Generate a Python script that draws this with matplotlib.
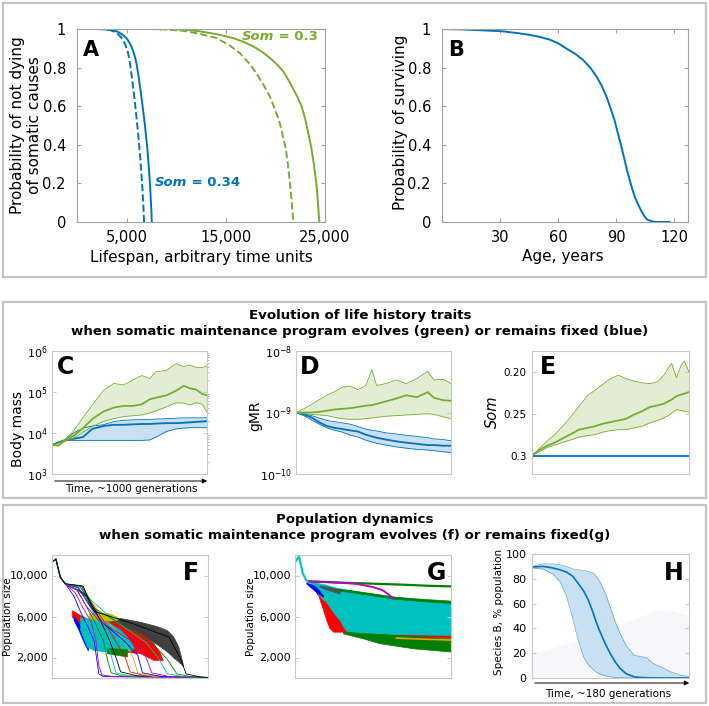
import numpy as np
import matplotlib.pyplot as plt
from matplotlib.patches import Rectangle, FancyArrowPatch

W, H = 709, 706
BLUE = '#0072BD'
GREEN = '#77AC30'
BLUE_FILL = '#c9e0f3'
GREEN_FILL = '#e2eed3'

# ---- A: somatic survival, two Som values (solid / dashed) ----
a_blue_x = [0, 2000, 3000, 3630, 4000, 4300, 4650, 4980, 5250, 5480, 5650, 5820, 6000, 6160,
            6330, 6490, 6660, 6830, 6970, 7100, 7200, 7300, 7380, 7440, 7500, 7540]
a_blue_y = [1, 1, 0.997, 0.993, 0.988, 0.98, 0.968, 0.953, 0.932, 0.91, 0.887, 0.86, 0.82, 0.77,
            0.71, 0.65, 0.58, 0.51, 0.44, 0.375, 0.31, 0.24, 0.175, 0.115, 0.055, 0]
a_blued_x = [0, 2900, 3500, 3970, 4300, 4640, 4900, 5150, 5320, 5480, 5650, 5820, 5990, 6160,
             6280, 6390, 6500, 6600, 6690, 6760]
a_blued_y = [1, 1, 0.992, 0.98, 0.965, 0.945, 0.915, 0.875, 0.83, 0.77, 0.70, 0.63, 0.545, 0.46,
             0.39, 0.32, 0.245, 0.17, 0.085, 0]
a_green_x = [0, 9020, 11000, 12380, 14000, 15750, 16800, 17770, 18650, 19450, 20150, 20790, 21300,
             21800, 22250, 22640, 23000, 23320, 23600, 23820, 24000, 24160, 24300, 24430]
a_green_y = [1, 1, 0.996, 0.988, 0.974, 0.953, 0.933, 0.91, 0.882, 0.85, 0.817, 0.78, 0.737,
             0.69, 0.645, 0.6, 0.535, 0.46, 0.39, 0.32, 0.25, 0.185, 0.09, 0]
a_greend_x = [0, 7340, 9000, 10700, 12400, 14060, 15300, 16420, 17300, 18100, 18800, 19450,
              19980, 20460, 20780, 21060, 21280, 21470, 21650, 21800]
a_greend_y = [1, 1, 0.997, 0.991, 0.975, 0.953, 0.918, 0.875, 0.825, 0.77, 0.71, 0.65,
              0.58, 0.51, 0.44, 0.375, 0.29, 0.2, 0.1, 0]

# ---- B: human survival ----
b_age = [0, 10, 21, 31.5, 38, 45, 50, 55.6, 60, 64, 68.5, 72.8, 76.5, 79.7, 82.5, 84.9, 87, 89,
         90.8, 92.6, 94.3, 96, 97.8, 99.5, 101.3, 103, 104.5, 106, 108.3, 110.7, 117.5]
b_surv = [1, 0.998, 0.993, 0.988, 0.98, 0.97, 0.96, 0.945, 0.926, 0.90, 0.873, 0.84, 0.80, 0.755,
          0.705, 0.65, 0.59, 0.53, 0.46, 0.39, 0.32, 0.25, 0.185, 0.13, 0.09, 0.055, 0.03, 0.012,
          0.004, 0, 0]

# ---- C: body mass (log10) ----
c_t = [0, 4, 8, 14, 20, 26, 33, 40, 46, 52, 58, 63, 67, 74, 80, 85, 89, 93, 97, 100]
c_g_mid = [3.71, 3.69, 3.81, 3.93, 4.12, 4.34, 4.52, 4.62, 4.66, 4.66, 4.70, 4.82, 4.86, 4.92, 5.03, 5.15, 5.09, 5.06, 4.95, 4.92]
c_g_hi = [3.71, 3.76, 3.83, 4.05, 4.38, 4.68, 5.03, 5.21, 5.17, 5.29, 5.40, 5.33, 5.49, 5.53, 5.69, 5.62, 5.66, 5.60, 5.60, 5.63]
c_g_lo = [3.71, 3.74, 3.79, 3.88, 4.02, 4.16, 4.28, 4.35, 4.40, 4.42, 4.44, 4.49, 4.54, 4.64, 4.74, 4.73, 4.68, 4.74, 4.70, 4.50]
c_b_mid = [3.71, 3.77, 3.82, 3.86, 3.90, 4.10, 4.17, 4.20, 4.20, 4.21, 4.22, 4.22, 4.23, 4.24, 4.24, 4.25, 4.26, 4.27, 4.28, 4.29]
c_b_hi = [3.71, 3.76, 3.82, 4.00, 4.12, 4.17, 4.20, 4.28, 4.31, 4.32, 4.33, 4.33, 4.34, 4.35, 4.36, 4.37, 4.37, 4.37, 4.37, 4.37]
c_b_lo = [3.71, 3.77, 3.82, 3.82, 3.82, 3.82, 3.82, 3.82, 3.82, 3.82, 3.82, 3.83, 3.90, 4.04, 4.10, 4.12, 4.13, 4.13, 4.13, 4.13]

# ---- D: gMR (log10) ----
d_t = [0, 5, 10, 15, 20, 25, 30, 35, 40, 45, 49, 52, 58, 65, 71, 78, 85, 89, 95, 100]
d_g_mid = [-9.0, -9.0, -9.0, -8.99, -8.97, -8.95, -8.94, -8.93, -8.91, -8.89, -8.88, -8.86, -8.82, -8.77, -8.72, -8.75, -8.67, -8.76, -8.80, -8.81]
d_g_hi = [-9.0, -8.94, -8.87, -8.79, -8.72, -8.66, -8.59, -8.57, -8.63, -8.56, -8.31, -8.56, -8.53, -8.47, -8.53, -8.45, -8.33, -8.47, -8.46, -8.53]
d_g_lo = [-9.0, -9.02, -9.03, -9.04, -9.05, -9.08, -9.10, -9.11, -9.11, -9.10, -9.09, -9.08, -9.06, -9.05, -9.04, -9.03, -9.02, -9.03, -9.07, -9.10]
d_b_mid = [-9.0, -9.03, -9.08, -9.16, -9.22, -9.25, -9.27, -9.29, -9.31, -9.36, -9.39, -9.41, -9.44, -9.47, -9.49, -9.51, -9.53, -9.53, -9.54, -9.54]
d_b_hi = [-9.0, -9.02, -9.05, -9.09, -9.13, -9.15, -9.17, -9.19, -9.23, -9.27, -9.29, -9.30, -9.33, -9.35, -9.37, -9.39, -9.41, -9.43, -9.44, -9.46]
d_b_lo = [-9.0, -9.05, -9.12, -9.19, -9.25, -9.29, -9.32, -9.37, -9.40, -9.45, -9.48, -9.50, -9.53, -9.56, -9.58, -9.60, -9.61, -9.62, -9.64, -9.65]

# ---- E: Som ----
e_t = [0, 5, 10, 15, 20, 25, 30, 35, 40, 45, 50, 55, 60, 65, 70, 75, 80, 84, 87, 89, 92, 95, 97, 100]
e_g_mid = [.300, .293, .288, .284, .279, .274, .269, .267, .265, .262, .260, .258, .256, .251, .247, .242, .240, .238, .235, .233, .229, .227, .226, .224]
e_g_hi = [.300, .291, .282, .274, .264, .253, .241, .229, .222, .215, .208, .204, .208, .211, .213, .214, .212, .204, .195, .190, .207, .192, .187, .200]
e_g_lo = [.300, .295, .290, .287, .284, .281, .278, .276, .275, .272, .270, .269, .269, .267, .265, .261, .258, .255, .252, .249, .245, .246, .247, .248]
e_b_t = [0, 100]
e_b = [0.3, 0.3]

# ---- F: population size, Som evolves ----
f_head_t = [0, 2.5, 5.3, 8.5]
f_head_y = [11300, 11600, 9840, 9190]
f_line_colors = ['b', 'm', 'g', 'c', 'k', 'r', 'y', 'b', 'm', 'c', 'g', 'k']
f_line_t = [
    [8.5, 14, 19, 23, 27, 29, 30, 33, 100],
    [8.5, 15, 20, 25, 28, 30, 32, 40, 100],
    [8.5, 16, 22, 28, 33, 36, 38, 45, 100],
    [8.5, 17, 23, 30, 35, 39, 41, 50, 100],
    [8.5, 18, 24, 30, 36, 41, 44, 55, 100],
    [8.5, 19, 25, 33, 40, 47, 50, 60, 100],
    [8.5, 19, 26, 35, 45, 52, 55, 65, 100],
    [8.5, 17, 24, 33, 45, 55, 58, 70, 100],
    [8.5, 16, 22, 30, 50, 60, 64, 75, 100],
    [8.5, 18, 25, 40, 60, 68, 74, 85, 100],
    [8.5, 19, 27, 45, 65, 74, 80, 90, 100],
    [8.5, 20, 27, 50, 75, 82, 86, 95, 100],
]
f_line_y = [
    [9190, 8000, 6200, 5000, 3600, 1500, 400, 150, 50],
    [9190, 8300, 6800, 5500, 3800, 1200, 300, 120, 40],
    [9190, 8600, 7000, 5300, 3600, 1500, 500, 200, 50],
    [9190, 8800, 7300, 5500, 3700, 1600, 500, 200, 60],
    [9190, 8900, 7600, 5900, 4000, 2000, 600, 200, 60],
    [9190, 8900, 7400, 5600, 3800, 2000, 600, 200, 60],
    [9190, 9000, 7300, 5600, 3900, 2000, 500, 150, 50],
    [9190, 8800, 7100, 5300, 3800, 2200, 500, 150, 40],
    [9190, 8600, 7000, 5600, 3700, 2100, 500, 150, 40],
    [9190, 8900, 7600, 5600, 3500, 2000, 400, 120, 40],
    [9190, 9000, 6800, 5200, 3300, 1800, 400, 100, 30],
    [9190, 8950, 6500, 5400, 4000, 2000, 400, 100, 30],
]
f_gray_t = [9.6, 16, 21.3, 24.5, 27.7, 31, 37.3, 45.8, 56.5, 67.2, 73.6, 77.8, 81, 83.2, 84.2]
f_gray_hi = [9030, 8710, 8230, 7580, 6610, 6130, 5970, 5800, 5480, 5060, 4680, 4030, 3060, 1770, 1130]
f_gray_lo = [9030, 8600, 8000, 7000, 6300, 5650, 5350, 4900, 4250, 3300, 2600, 2000, 1600, 1300, 1130]
f_yel_t = [23.5, 28.8, 37.3, 41.6]
f_yel_hi = [6290, 6450, 6290, 5970]
f_yel_lo = [5650, 5600, 5600, 5650]
f_red_t = [12.8, 18.1, 24.5, 31, 39.4, 45.8, 56.5, 65, 69.3, 71]
f_red_hi = [6610, 6130, 5650, 5320, 5480, 5000, 4350, 3390, 2420, 1700]
f_red_lo = [5970, 5320, 4680, 3390, 2740, 2580, 2420, 1770, 1770, 1700]
f_blu_t = [13.9, 17, 20.3, 23]
f_blu_hi = [5970, 5400, 4680, 3500]
f_blu_lo = [5650, 4700, 3500, 2700]
f_cya_t = [18.1, 22.4, 26.7, 31, 37.3, 43.7, 48, 52.2]
f_cya_hi = [5970, 5800, 5650, 5480, 5320, 4680, 4030, 3060]
f_cya_lo = [4680, 3060, 2740, 2650, 2580, 2580, 2650, 2740]
f_grn_t = [35.2, 40, 44, 48]
f_grn_hi = [2900, 2900, 2850, 2800]
f_grn_lo = [2420, 2300, 2200, 2100]

# ---- G: population size, Som fixed ----
g_head_t = [0, 2.6, 5.1, 7.3, 9.4]
g_head_y = [11290, 11840, 10160, 9520, 9420]
g_top_t = [9.4, 30, 50, 70, 85, 100]
g_top_y = [9420, 9300, 9200, 9100, 9000, 8940]
g_mag_t = [9.4, 22.2, 39.3, 50, 56.4, 60.7, 63.2]
g_mag_y = [9420, 9350, 9190, 8870, 8550, 8060, 7740]
g_grn2_t = [22.2, 39.3, 62.8, 77.8, 100]
g_grn2_hi = [8800, 8480, 7950, 7760, 7550]
g_grn2_lo = [8650, 8300, 7750, 7550, 7300]
g_cya_t = [9.4, 15, 20, 24.4, 28.6, 31.8, 33.5, 43.6, 65, 100]
g_cya_hi = [9420, 9250, 9100, 8900, 8750, 8680, 8620, 8390, 7900, 7420]
g_cya_lo = [9420, 8150, 7420, 6450, 5650, 4800, 4580, 4380, 4280, 4200]
g_red_t = [11.5, 15, 17.5, 20, 22, 24.4, 28.6, 31.8, 33.5, 56.4, 77.8, 100]
g_red_hi = [8870, 8150, 7700, 7420, 7000, 6450, 5650, 4800, 4580, 4350, 4260, 4190]
g_red_lo = [8870, 8000, 6900, 5650, 4900, 4520, 4520, 4520, 4480, 4150, 4050, 3950]
g_grn_t = [30.8, 43.6, 54.3, 75.6, 100]
g_grn_hi = [4520, 4380, 4300, 4100, 3870]
g_grn_lo = [4350, 3870, 3390, 2900, 2580]
g_org_t = [65, 80, 100]
g_org_y = [3900, 3800, 3700]
g_gry_t = [15.8, 22.2, 28.6]
g_gry_hi = [9030, 8870, 8550]
g_gry_lo = [8900, 8550, 8230]
g_blu_t = [7.3, 13.7, 18]
g_blu_hi = [9350, 8870, 8060]
g_blu_lo = [9190, 8390, 7900]

# ---- H: species B share ----
h_t = [0, 7, 13, 18, 22, 26, 29, 33, 36, 39, 41, 43, 47, 50, 53, 56, 60, 65, 69, 73, 77, 82, 88, 94, 100]
h_mid = [89.5, 90, 88.8, 87.2, 85.4, 82.0, 77.0, 70.0, 62.5, 52.3, 44.8, 38.3, 26.7, 19.4, 13.0, 7.9, 3.4, 1.0, 0.4, 0.2, 0.1, 0, 0, 0, 0]
h_hi = [90, 92, 92, 91.3, 90, 88, 87.3, 86.7, 85.8, 84.6, 82, 78.5, 67.5, 56.5, 45.5, 36.3, 26, 18.4, 17.3, 16.5, 11.8, 9.0, 5.1, 2.5, 1.1]
h_lo = [88.7, 87.9, 84, 77.5, 65.8, 47.8, 32.5, 16.5, 10.5, 6.8, 4.8, 3.3, 1.8, 0.9, 0.4, 0.2, 0.1, 0, 0, 0, 0, 0, 0, 0, 0]
h_bg_t = [0, 10, 20, 30, 40, 50, 60, 70, 80, 90, 100]
h_bg = [20, 23, 27, 31, 35, 40, 45, 50, 55, 54, 50]

fig = plt.figure(figsize=(W / 100, H / 100), dpi=100)


def rect(l, t, r, b):
    return [l / W, 1 - b / H, (r - l) / W, (b - t) / H]


def ftext(x, y, s, **kw):
    return fig.text(x / W, 1 - y / H, s, **kw)


def style(ax, col, lab):
    for sp in ax.spines.values():
        sp.set_color(col)
        sp.set_linewidth(0.8)
    ax.tick_params(direction='in', top=True, right=True, color=col, length=3,
                   labelsize=lab)


# panel frames
for (l, t, r, b) in [(3, 3, 706, 277), (3, 302, 706, 498), (3, 505, 706, 703)]:
    fig.add_artist(Rectangle((l / W, 1 - b / H), (r - l) / W, (b - t) / H,
                             transform=fig.transFigure, fill=False,
                             ec='#c4c4c4', lw=1.6))

# A
ax = fig.add_axes(rect(77, 29, 325, 222))
ax.plot(a_blue_x, a_blue_y, color=BLUE, lw=1.4)
ax.plot(a_blued_x, a_blued_y, color=BLUE, lw=1.4, ls='--')
ax.plot(a_green_x, a_green_y, color=GREEN, lw=1.4)
ax.plot(a_greend_x, a_greend_y, color=GREEN, lw=1.4, ls='--')
ax.set_xlim(0, 25000)
ax.set_ylim(0, 1)
ax.set_xticks([5000, 15000, 25000], ['5,000', '15,000', '25,000'])
ax.set_yticks([0, 0.2, 0.4, 0.6, 0.8, 1], ['0', '0.2', '0.4', '0.6', '0.8', '1'])
style(ax, '#a0a0a0', 10.5)
ax.tick_params(axis='y', pad=8)
ax.tick_params(axis='x', pad=6)
t1 = ftext(242, 36, 'Som', color=GREEN, fontsize=9.5, fontweight='bold',
           fontstyle='italic', va='center')
ax.annotate(' = 0.3', xy=(1, 0), xycoords=t1, va='bottom', color=GREEN,
            fontsize=9.5, fontweight='bold')
t2 = ftext(155, 183, 'Som', color=BLUE, fontsize=9.5, fontweight='bold',
           fontstyle='italic', va='center')
ax.annotate(' = 0.34', xy=(1, 0), xycoords=t2, va='bottom', color=BLUE,
            fontsize=9.5, fontweight='bold')
ftext(91, 50, 'A', fontsize=15, fontweight='bold', ha='center', va='center')
ftext(26, 125, 'Probability of not dying\nof somatic causes', rotation=90,
      ha='center', va='center', fontsize=11, linespacing=1.15)
ftext(201, 257, 'Lifespan, arbitrary time units', ha='center', va='center', fontsize=11)

# B
ax = fig.add_axes(rect(442, 29, 688, 222))
ax.plot(b_age, b_surv, color=BLUE, lw=1.4)
ax.set_xlim(0, 127)
ax.set_ylim(0, 1)
ax.set_xticks([30, 60, 90, 120])
ax.set_yticks([0, 0.2, 0.4, 0.6, 0.8, 1], ['0', '0.2', '0.4', '0.6', '0.8', '1'])
style(ax, '#a0a0a0', 10.5)
ax.tick_params(axis='y', pad=8)
ax.tick_params(axis='x', pad=6)
ftext(456, 50, 'B', fontsize=15, fontweight='bold', ha='center', va='center')
ftext(400, 122, 'Probability of surviving', rotation=90, ha='center',
      va='center', fontsize=11)
ftext(563, 256, 'Age, years', ha='center', va='center', fontsize=11)

# middle titles
ftext(360, 323.5, 'Evolution of life history traits\n'
      'when somatic maintenance program evolves (green) or remains fixed (blue)',
      ha='center', va='center', fontsize=9.6, fontweight='bold', linespacing=1.3,
      multialignment='center')


def band(ax, t, lo, hi, mid, fill, col, log=False):
    lo, hi, mid = np.array(lo), np.array(hi), np.array(mid)
    if log:
        lo, hi, mid = 10 ** lo, 10 ** hi, 10 ** mid
    ax.fill_between(t, lo, hi, color=fill, lw=0)
    ax.plot(t, lo, color=col, lw=0.6)
    ax.plot(t, hi, color=col, lw=0.6)
    ax.plot(t, mid, color=col, lw=1.3)


# C
ax = fig.add_axes(rect(52, 351, 207, 474))
band(ax, c_t, c_b_lo, c_b_hi, c_b_mid, BLUE_FILL, BLUE, log=True)
band(ax, c_t, c_g_lo, c_g_hi, c_g_mid, GREEN_FILL, GREEN, log=True)
ax.set_yscale('log')
ax.set_ylim(1e3, 1e6)
ax.set_xlim(0, 100)
ax.set_xticks([])
style(ax, '#c8c8c8', 8)
ax.tick_params(which='minor', left=False, right=True, length=1.5, color='#b0b0b0')
ax.tick_params(axis='y', pad=3)
ftext(66, 367, 'C', fontsize=17, fontweight='bold', ha='center', va='center')
ftext(18, 429, 'Body mass', rotation=90, ha='center', va='center', fontsize=10)
fig.add_artist(FancyArrowPatch((52 / W, 1 - 481 / H), (210 / W, 1 - 481 / H),
                               transform=fig.transFigure, arrowstyle='-|>',
                               mutation_scale=7, lw=0.7, color='k'))
ftext(131, 489, 'Time, ~1000 generations', ha='center', va='center', fontsize=7.5)

# D
ax = fig.add_axes(rect(296, 351, 451, 474))
band(ax, d_t, d_b_lo, d_b_hi, d_b_mid, BLUE_FILL, BLUE, log=True)
band(ax, d_t, d_g_lo, d_g_hi, d_g_mid, GREEN_FILL, GREEN, log=True)
ax.set_yscale('log')
ax.set_ylim(1e-10, 1e-8)
ax.set_xlim(0, 100)
ax.set_xticks([])
ax.minorticks_off()
style(ax, '#c8c8c8', 8)
ax.tick_params(axis='y', pad=3)
ftext(310, 367, 'D', fontsize=17, fontweight='bold', ha='center', va='center')
ftext(255, 416, 'gMR', rotation=90, ha='center', va='center', fontsize=10)

# E
ax = fig.add_axes(rect(532, 351, 689, 474))
ax.fill_between(e_t, e_g_lo, e_g_hi, color=GREEN_FILL, lw=0)
ax.plot(e_t, e_g_lo, color=GREEN, lw=0.6)
ax.plot(e_t, e_g_hi, color=GREEN, lw=0.6)
ax.plot(e_t, e_g_mid, color=GREEN, lw=1.3)
ax.plot(e_b_t, e_b, color=BLUE, lw=1.3)
ax.set_ylim(0.322, 0.175)
ax.set_xlim(0, 100)
ax.set_xticks([])
ax.set_yticks([0.2, 0.25, 0.3], ['0.20', '0.25', '0.3'])
style(ax, '#c8c8c8', 7.5)
ax.tick_params(axis='y', pad=4)
ftext(548, 367, 'E', fontsize=17, fontweight='bold', ha='center', va='center')
ftext(492, 412, 'Som', rotation=90, ha='center', va='center', fontsize=10.5,
      fontstyle='italic')

# bottom titles
ftext(355, 527, 'Population dynamics\n'
      'when somatic maintenance program evolves (f) or remains fixed(g)',
      ha='center', va='center', fontsize=9.6, fontweight='bold', linespacing=1.3,
      multialignment='center')

# F
ax = fig.add_axes(rect(52, 555, 208, 678))
for c, t, y in zip(f_line_colors, f_line_t, f_line_y):
    ax.plot(f_head_t + t, f_head_y + y, color=c, lw=0.6)
ax.fill_between(f_gray_t, f_gray_lo, f_gray_hi, color='#404040', lw=0.5, ec='#404040')
ax.fill_between(f_yel_t, f_yel_lo, f_yel_hi, color='#bfbf00', lw=0.5, ec='#bfbf00')
ax.fill_between(f_red_t, f_red_lo, f_red_hi, color='r', lw=0.5, ec='r')
ax.fill_between(f_blu_t, f_blu_lo, f_blu_hi, color='b', lw=0.5, ec='b')
ax.fill_between(f_cya_t, f_cya_lo, f_cya_hi, color='#00bfbf', lw=0.5, ec='#00bfbf')
ax.fill_between(f_grn_t, f_grn_lo, f_grn_hi, color='g', lw=0.5, ec='g')
ax.set_xlim(0, 100)
ax.set_ylim(0, 12000)
ax.set_xticks([])
ax.set_yticks([2000, 6000, 10000], ['2,000', '6,000', '10,000'])
style(ax, '#c8c8c8', 8)
ax.tick_params(axis='y', pad=3)
ftext(191, 573, 'F', fontsize=17, fontweight='bold', ha='center', va='center')
ftext(8, 617, 'Population size', rotation=90, ha='center', va='center', fontsize=7.5)

# G
ax = fig.add_axes(rect(295, 555, 451, 678))
ax.plot(g_head_t, g_head_y, color='#00bfbf', lw=1.5)
ax.plot(g_top_t, g_top_y, color='g', lw=1.6)
ax.fill_between(g_red_t, g_red_lo, g_red_hi, color='r', lw=0.5, ec='r')
ax.fill_between(g_cya_t, g_cya_lo, g_cya_hi, color='#00bfbf', lw=0.5, ec='#00bfbf')
ax.fill_between(g_grn2_t, g_grn2_lo, g_grn2_hi, color='g', lw=0.5, ec='g')
ax.fill_between(g_grn_t, g_grn_lo, g_grn_hi, color='g', lw=0.5, ec='g')
ax.plot(g_org_t, g_org_y, color='#ff9900', lw=1.2)
ax.fill_between(g_gry_t, g_gry_lo, g_gry_hi, color='#505050', lw=0.5, ec='#505050')
ax.fill_between(g_blu_t, g_blu_lo, g_blu_hi, color='b', lw=0.5, ec='b')
ax.plot(g_mag_t, g_mag_y, color='#bf00bf', lw=1.4)
ax.set_xlim(0, 100)
ax.set_ylim(0, 12000)
ax.set_xticks([])
ax.set_yticks([2000, 6000, 10000], ['2,000', '6,000', '10,000'])
style(ax, '#c8c8c8', 8)
ax.tick_params(axis='y', pad=3)
ftext(437, 573, 'G', fontsize=17, fontweight='bold', ha='center', va='center')
ftext(251, 617, 'Population size', rotation=90, ha='center', va='center', fontsize=7.5)

# H
ax = fig.add_axes(rect(532, 554, 689, 678))
ax.fill_between(h_bg_t, 0, h_bg, color='#f7f6fb', lw=0)
ax.fill_between(h_t, h_lo, h_hi, color=BLUE_FILL, lw=0)
ax.plot(h_t, h_lo, color=BLUE, lw=0.5, alpha=0.6)
ax.plot(h_t, h_hi, color=BLUE, lw=0.5, alpha=0.6)
ax.plot(h_t, h_mid, color=BLUE, lw=1.2)
ax.set_xlim(0, 100)
ax.set_ylim(0, 100)
ax.set_xticks([])
ax.set_yticks([0, 20, 40, 60, 80, 100])
style(ax, '#c8c8c8', 8)
ax.tick_params(axis='y', pad=4)
ftext(674, 573, 'H', fontsize=17, fontweight='bold', ha='center', va='center')
ftext(499, 612, 'Species B, % population', rotation=90, ha='center', va='center',
      fontsize=7.5)
fig.add_artist(FancyArrowPatch((532 / W, 1 - 683 / H), (692 / W, 1 - 683 / H),
                               transform=fig.transFigure, arrowstyle='-|>',
                               mutation_scale=7, lw=0.7, color='k'))
ftext(608, 694, 'Time, ~180 generations', ha='center', va='center', fontsize=7.5)

fig.savefig('out.png', dpi=100)
